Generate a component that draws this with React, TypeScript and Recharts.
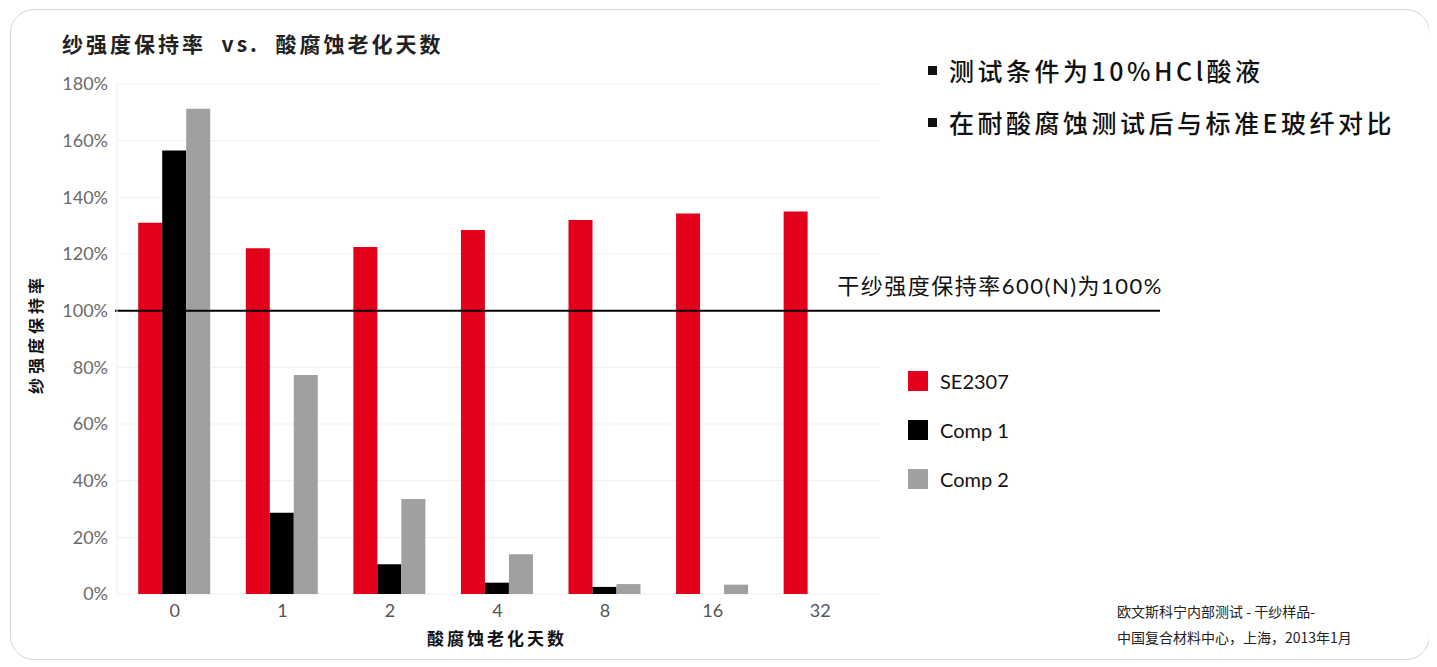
import React from "react";
import {
  Bar,
  BarChart,
  CartesianGrid,
  ReferenceLine,
  XAxis,
  YAxis,
} from "recharts";

// acid aging days
const days = ["0", "1", "2", "4", "8", "16", "32"];
// strength retention, %
const se2307 = [131, 122, 122.5, 128.5, 132, 134.3, 135];
const comp1 = [156.5, 28.7, 10.5, 4, 2.5, 0, 0];
const comp2 = [171.3, 77.3, 33.5, 14, 3.5, 3.3, 0];
const yTicks = [0, 20, 40, 60, 80, 100, 120, 140, 160, 180];

const series = [
  { key: "se2307", name: "SE2307", color: "#e2001a" },
  { key: "comp1", name: "Comp 1", color: "#000000" },
  { key: "comp2", name: "Comp 2", color: "#a0a0a0" },
];

const data = days.map((d, i) => ({
  day: d,
  se2307: se2307[i],
  comp1: comp1[i],
  comp2: comp2[i],
}));

const CJK = "'Noto Sans CJK SC', 'Noto Sans', sans-serif";
const LATIN = "Lato, 'Noto Sans CJK SC', sans-serif";

// 100% line reaches out past the plot, with its caption on the right end
function BaselineShape(props: any) {
  const { x1, y1, x2, y2 } = props;
  const end = x2 + 280;
  return (
    <g>
      <line x1={x1 - 2} y1={y1} x2={end} y2={y2} stroke="#000" strokeWidth={2} />
      <text
        x={end + 3}
        y={y1 - 17}
        textAnchor="end"
        fontSize={22}
        letterSpacing={1.5}
        fontFamily={LATIN}
        fill="#111"
      >
        干纱强度保持率600(N)为100%
      </text>
    </g>
  );
}

export default function App() {
  return (
    <div style={{ position: "relative", width: 1421, height: 652 }}>
      {/* card outline */}
      <div
        style={{
          position: "absolute",
          left: 2,
          top: 1,
          width: 1420,
          height: 651,
          border: "1.5px solid #d6d6d6",
          borderRadius: 24,
          boxSizing: "border-box",
        }}
      />

      <div
        style={{
          position: "absolute",
          left: 54,
          top: 20,
          fontFamily: CJK,
          fontSize: 21,
          fontWeight: 700,
          letterSpacing: 3,
          color: "#222",
          whiteSpace: "pre",
        }}
      >
        纱强度保持率  vs.  酸腐蚀老化天数
      </div>

      {/* notes, top right */}
      {["测试条件为10%HCl酸液", "在耐酸腐蚀测试后与标准E玻纤对比"].map((t, i) => (
        <div
          key={t}
          style={{
            position: "absolute",
            left: 920,
            top: 44 + i * 52,
            display: "flex",
            alignItems: "center",
            fontFamily: CJK,
            fontSize: 25,
            fontWeight: 500,
            letterSpacing: 3.5,
            color: "#111",
          }}
        >
          <span
            style={{
              display: "inline-block",
              width: 9,
              height: 9,
              background: "#111",
              marginRight: 12,
            }}
          />
          {t}
        </div>
      ))}

      {/* legend */}
      <div style={{ position: "absolute", left: 900, top: 348 }}>
        {series.map((s) => (
          <div
            key={s.key}
            style={{ display: "flex", alignItems: "center", height: 49 }}
          >
            <span
              style={{
                display: "inline-block",
                width: 20,
                height: 20,
                background: s.color,
                marginRight: 12,
              }}
            />
            <span style={{ fontFamily: LATIN, fontSize: 20, color: "#111" }}>
              {s.name}
            </span>
          </div>
        ))}
      </div>

      {/* y axis title */}
      <div
        style={{
          position: "absolute",
          left: 27,
          top: 326,
          transform: "translate(-50%, -50%) rotate(-90deg)",
          fontFamily: CJK,
          fontSize: 16,
          fontWeight: 700,
          letterSpacing: 4,
          color: "#111",
          whiteSpace: "nowrap",
        }}
      >
        纱强度保持率
      </div>

      {/* x axis title */}
      <div
        style={{
          position: "absolute",
          left: 489,
          top: 629,
          transform: "translate(-50%, -50%)",
          fontFamily: CJK,
          fontSize: 17,
          fontWeight: 700,
          letterSpacing: 3,
          color: "#111",
          whiteSpace: "nowrap",
        }}
      >
        酸腐蚀老化天数
      </div>

      {/* source note */}
      <div
        style={{
          position: "absolute",
          left: 1109,
          top: 590,
          fontFamily: CJK,
          fontSize: 14,
          lineHeight: "26px",
          color: "#222",
          whiteSpace: "pre",
        }}
      >
        {"欧文斯科宁内部测试 - 干纱样品-\n中国复合材料中心，上海，2013年1月"}
      </div>

      <div style={{ position: "absolute", left: 0, top: 0 }}>
        <BarChart
          width={1421}
          height={652}
          data={data}
          margin={{ top: 76, right: 549, bottom: 36, left: 49 }}
          barCategoryGap="16%"
          barGap={0}
        >
          <CartesianGrid stroke="#efefef" vertical={false} />
          <XAxis
            dataKey="day"
            axisLine={false}
            tickLine={false}
            tickMargin={4}
            padding={{ left: 4, right: 6 }}
            tick={{ fontSize: 18, fill: "#555", fontFamily: LATIN }}
          />
          <YAxis
            width={60}
            domain={[0, 180]}
            ticks={yTicks}
            interval={0}
            axisLine={{ stroke: "#ececec" }}
            tickLine={false}
            tickMargin={3}
            tickFormatter={(v) => `${v}%`}
            tick={{ fontSize: 18, fill: "#6a6a6a", fontFamily: LATIN }}
          />
          {series.map((s) => (
            <Bar
              key={s.key}
              dataKey={s.key}
              name={s.name}
              fill={s.color}
              isAnimationActive={false}
            />
          ))}
          <ReferenceLine y={100} shape={BaselineShape} ifOverflow="visible" />
        </BarChart>
      </div>
    </div>
  );
}
